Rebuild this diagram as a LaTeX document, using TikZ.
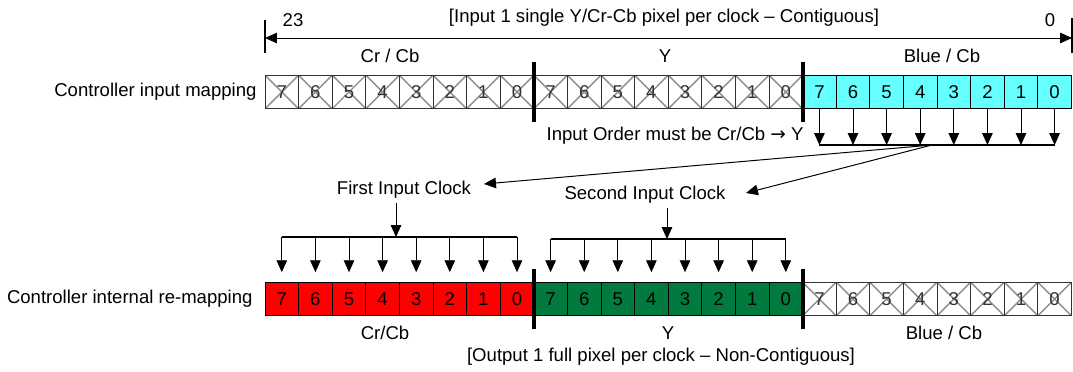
\documentclass[tikz,border=0pt]{standalone}
\usepackage{fontspec}
\setmainfont{Liberation Sans}
\newfontfamily\arrowfont{DejaVu Sans}
\usetikzlibrary{arrows.meta, positioning}

\definecolor{incyan}{RGB}{102,255,255}
\definecolor{outred}{RGB}{255,0,0}
\definecolor{outgreen}{RGB}{0,122,61}

\begin{document}
\begin{tikzpicture}[
            > = {Triangle[length=8.5pt, width=7.5pt]}, % arrow head style
            line width = 0.7pt, % line style
            font = \fontsize{13.2}{15}\selectfont
        ]

        \tikzstyle{cell}=[
            draw = black,
            minimum width = 0.84cm,
            minimum height = 0.84cm,
            inner sep = 0pt,
            outer sep = 0pt
        ]
        \tikzstyle{unused}=[
            cell,
            draw = black!80,
            text = black!80,
            path picture = {
                \draw[black!45, line width = 1pt]
                    (path picture bounding box.north west) -- (path picture bounding box.south east)
                    (path picture bounding box.south west) -- (path picture bounding box.north east);
            }
        ]
        \tikzstyle{sep}=[line width = 2.8pt]
        \tikzstyle{bar}=[line width = 1.4pt]
        \tikzstyle{lbl}=[inner sep = 0pt]

        \useasboundingbox (0,0) rectangle (26.825,-9.3);

        % input row
        \foreach \i in {0,...,23} {
            \pgfmathtruncatemacro{\bit}{7-mod(\i,8)}
            \ifnum\i<16
                \node[unused] (a\i) at ({7.045+0.84*\i},-2.3) {\bit};
            \else
                \node[cell, fill=incyan] (a\i) at ({7.045+0.84*\i},-2.3) {\bit};
            \fi
        }

        % internal row
        \foreach \i in {0,...,23} {
            \pgfmathtruncatemacro{\bit}{7-mod(\i,8)}
            \ifnum\i<8
                \node[cell, fill=outred] (b\i) at ({7.045+0.84*\i},-7.475) {\bit};
            \else\ifnum\i<16
                \node[cell, fill=outgreen] (b\i) at ({7.045+0.84*\i},-7.475) {\bit};
            \else
                \node[unused] (b\i) at ({7.045+0.84*\i},-7.475) {\bit};
            \fi\fi
        }

        \foreach \n in {a7, a15, b7, b15}
            \draw[sep] ([yshift=0.325cm]\n.north east) -- ([yshift=-0.325cm]\n.south east);

        \node[lbl, left=0.2cm of a0] (inmap) {Controller input mapping};
        \node[lbl, left=0.3cm of b0] (outmap) {Controller internal re-mapping};

        % bit range
        \coordinate (dimL) at (6.625,-0.95);
        \coordinate (dimR) at (26.8,-0.95);
        \draw[line width = 1.1pt] ([yshift=0.45cm]dimL) -- ([yshift=-0.375cm]dimL);
        \draw[line width = 1.1pt] ([yshift=0.5cm]dimR) -- ([yshift=-0.375cm]dimR);
        \draw[<->] (dimL) -- (dimR);

        \node[lbl] (msb) at (7.325,-0.5) {23};
        \node[lbl] (lsb) at (26.25,-0.5) {0};
        \node[lbl] (intitle) at (16.6,-0.45) {[Input 1 single Y/Cr-Cb pixel per clock -- Contiguous]};

        \node[lbl] (incr) at (9.75,-1.4) {Cr / Cb};
        \node[lbl] (iny) at (16.625,-1.4) {Y};
        \node[lbl] (inblue) at (23.55,-1.4) {Blue / Cb};

        % input clock split
        \coordinate (inbar) at (0,-3.625);
        \foreach \i in {16,...,23}
            \draw[->] (a\i.south) -- (a\i |- inbar);
        \draw[bar] (a16 |- inbar) -- (a23 |- inbar);
        \node[lbl, anchor=east] (order) at (20.1,-3.4) {Input Order must be Cr/Cb {\arrowfont →} Y};

        \coordinate (split) at (23.3,-3.625);
        \coordinate (clk1) at (12.1,-4.6);
        \coordinate (clk2) at (18.65,-4.825);
        \node[lbl] (first) at (10.1,-4.75) {First Input Clock};
        \node[lbl] (second) at (16.125,-4.875) {Second Input Clock};
        \draw[->] (split) -- (clk1);
        \draw[->] (split) -- (clk2);

        % fan out to the internal row
        \coordinate (drop1) at (9.9,-5.925);
        \coordinate (drop2) at (16.675,-5.975);
        \draw[->] (drop1 |- first.south) ++(0,-0.1) -- (drop1);
        \draw[->] (drop2 |- second.south) ++(0,-0.1) -- (drop2);
        \draw[bar] (b0 |- drop1) -- (b7 |- drop1);
        \draw[bar] (b8 |- drop2) -- (b15 |- drop2);
        \foreach \i in {0,...,7}
            \draw[->] (b\i |- drop1) -- ([yshift=0.25cm]b\i.north);
        \foreach \i in {8,...,15}
            \draw[->] (b\i |- drop2) -- ([yshift=0.25cm]b\i.north);

        \node[lbl] (outcr) at (9.625,-8.325) {Cr/Cb};
        \node[lbl] (outy) at (16.7,-8.325) {Y};
        \node[lbl] (outblue) at (23.6,-8.325) {Blue / Cb};
        \node[lbl] (outtitle) at (16.525,-8.925) {[Output 1 full pixel per clock -- Non-Contiguous]};

    \end{tikzpicture}
\end{document}
